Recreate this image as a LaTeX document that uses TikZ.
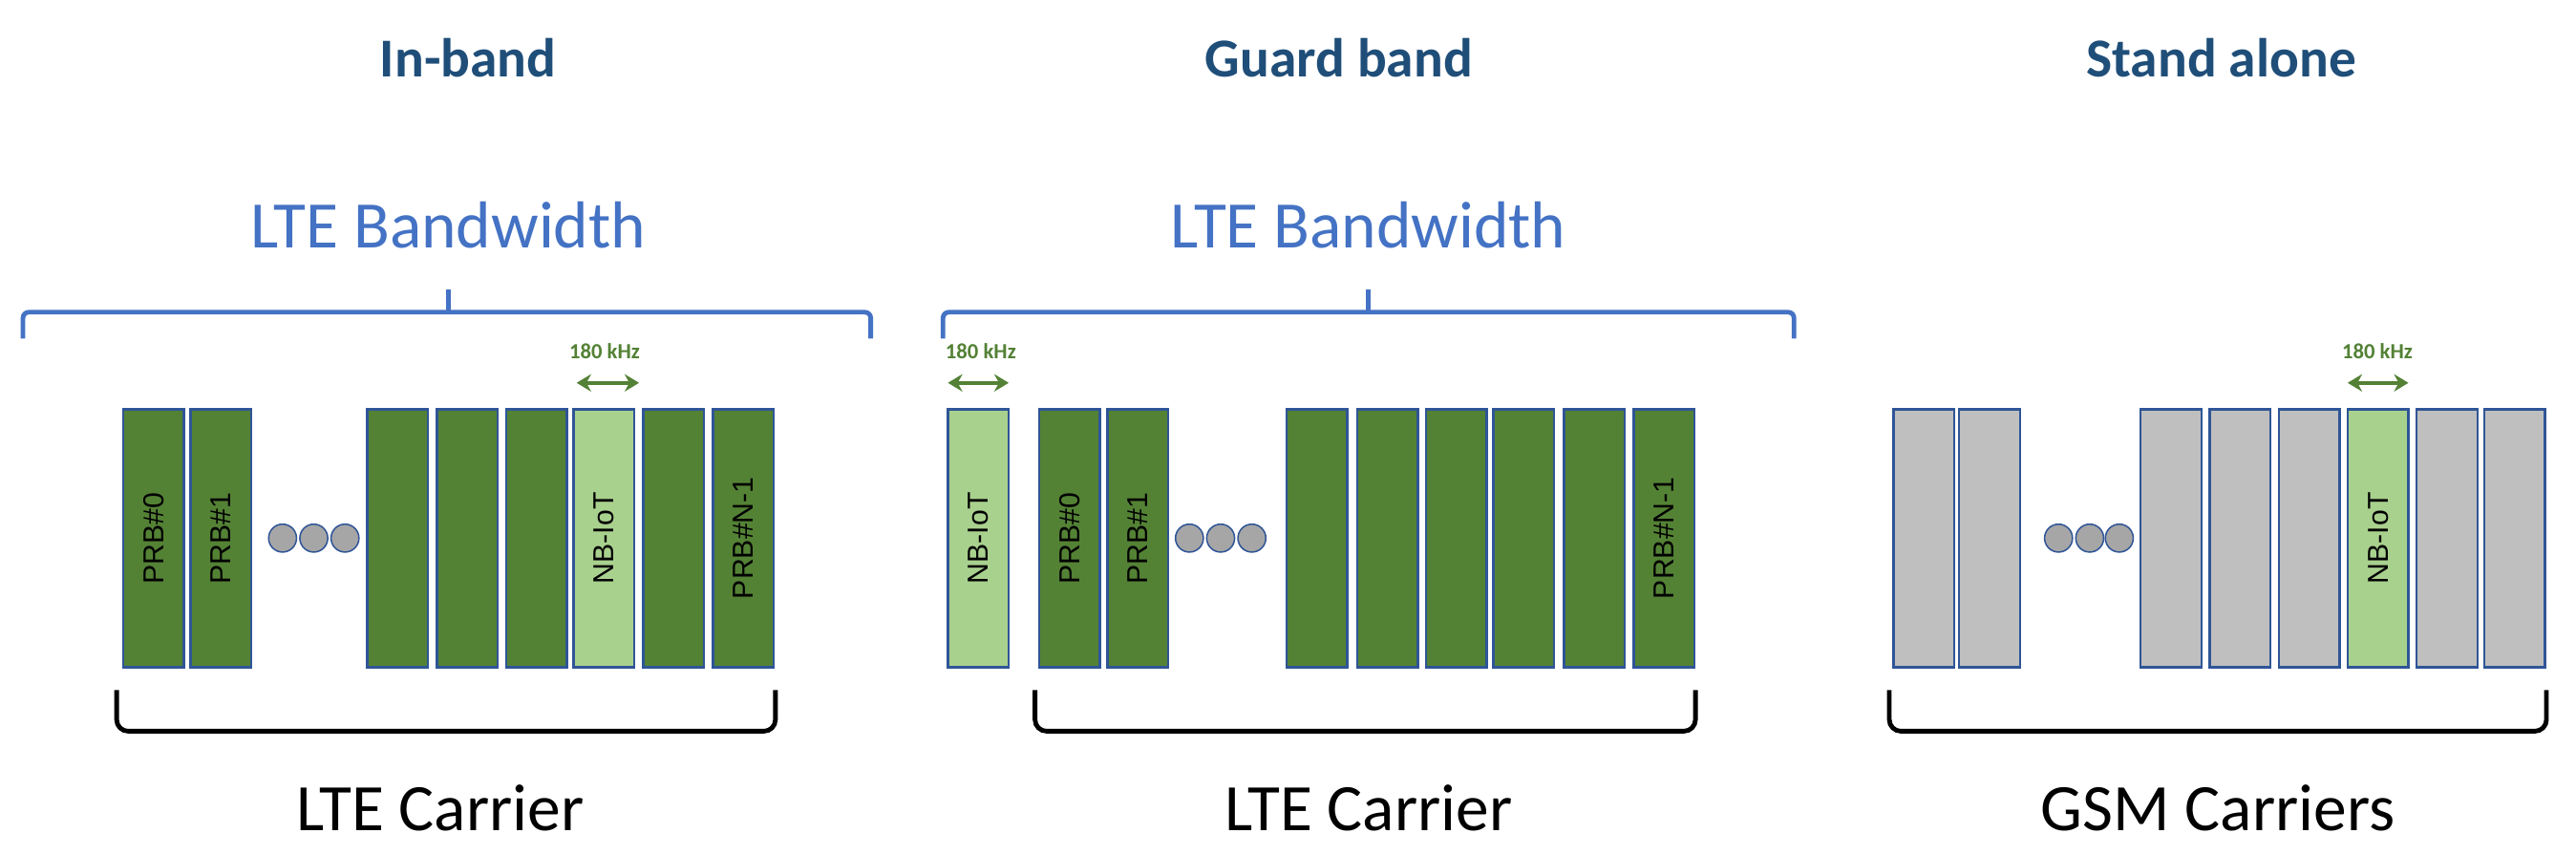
\documentclass[tikz,border=0pt]{standalone}
\usepackage{fontspec}
\setmainfont{Carlito}
\newfontfamily\arialf{Liberation Sans}
\usetikzlibrary{arrows.meta}
\definecolor{dg}{HTML}{548235}
\definecolor{lg}{HTML}{A9D18E}
\definecolor{bb}{HTML}{2F5597}
\definecolor{gr}{HTML}{BFBFBF}
\definecolor{bt}{HTML}{4472C4}
\definecolor{tt}{HTML}{1F4E79}
\definecolor{kg}{HTML}{538135}
\begin{document}
\begin{tikzpicture}[x=0.02cm,y=-0.02cm,
  bar/.style={draw=bb,line width=0.8pt,minimum width=0.74cm,minimum height=3.14cm,inner sep=0pt},
  dk/.style={bar,fill=dg}, lt/.style={bar,fill=lg}, gy/.style={bar,fill=gr},
  lab/.style={rotate=90,font=\arialf\fontsize{10}{12}\selectfont},
  dot/.style={circle,draw=bb,line width=0.5pt,fill=gray!70,minimum size=0.34cm,inner sep=0pt},
  title/.style={font=\bfseries\fontsize{19}{22}\selectfont,text=tt},
  bw/.style={font=\fontsize{23}{27}\selectfont,text=bt},
  car/.style={font=\fontsize{23}{27}\selectfont},
  khz/.style={font=\bfseries\fontsize{7.5}{9}\selectfont,text=kg},
  arr/.style={{Stealth[length=5pt,width=6pt]}-{Stealth[length=5pt,width=6pt]},draw=kg,line width=1.2pt},
  blue br/.style={draw=bt,line width=1.6pt,rounded corners=2pt},
  black br/.style={draw=black,line width=1.6pt,rounded corners=4pt}]
\useasboundingbox (0,0) rectangle (1568,520);
% titles
\node[title] (t1) at (285,35) {In-band};
\node[title] (t2) at (815,35) {Guard band};
\node[title] (t3) at (1352,35) {Stand alone};
% LTE bandwidth
\node[bw] (b1) at (273,137) {LTE Bandwidth};
\node[bw] (b2) at (833,137) {LTE Bandwidth};
\draw[blue br] (14,206) -- (14,190) -- (530,190) -- (530,206);
\draw[blue br] (273,190) -- (273,176);
\draw[blue br] (574,206) -- (574,190) -- (1092,190) -- (1092,206);
\draw[blue br] (833,190) -- (833,176);
% panel 1
\def\yc{327.5}
\node[dk] (a1) at (93.5,\yc) {};\node[lab] at (a1) {PRB\#0};
\node[dk] (a2) at (134.5,\yc) {};\node[lab] at (a2) {PRB\#1};
\node[dot] (ad1) at (172,\yc) {};\node[dot] (ad2) at (191,\yc) {};\node[dot] (ad3) at (210,\yc) {};
\node[dk] (a3) at (242,\yc) {};
\node[dk] (a4) at (284.5,\yc) {};
\node[dk] (a5) at (326.5,\yc) {};
\node[lt] (a6) at (367.5,\yc) {};\node[lab] at (a6) {NB-IoT};
\node[dk] (a7) at (410,\yc) {};
\node[dk] (a8) at (452.5,\yc) {};\node[lab] at (a8) {PRB\#N-1};
\node[khz] (k1) at (368,214) {180 kHz};
\coordinate (k1l) at (351,233);\coordinate (k1r) at (389,233);
\draw[arr] (k1l) -- (k1r);
% panel 2
\node[lt] (g0) at (595.5,\yc) {};\node[lab] at (g0) {NB-IoT};
\node[dk] (g1) at (651,\yc) {};\node[lab] at (g1) {PRB\#0};
\node[dk] (g2) at (692.5,\yc) {};\node[lab] at (g2) {PRB\#1};
\node[dot] (gd1) at (724,\yc) {};\node[dot] (gd2) at (743,\yc) {};\node[dot] (gd3) at (762,\yc) {};
\node[dk] (g3) at (801.5,\yc) {};
\node[dk] (g4) at (844.5,\yc) {};
\node[dk] (g5) at (886.5,\yc) {};
\node[dk] (g6) at (927.5,\yc) {};
\node[dk] (g7) at (970.5,\yc) {};
\node[dk] (g8) at (1013,\yc) {};\node[lab] at (g8) {PRB\#N-1};
\node[khz] (k2) at (597,214) {180 kHz};
\coordinate (k2l) at (577,233);\coordinate (k2r) at (614,233);
\draw[arr] (k2l) -- (k2r);
% panel 3
\node[gy] (s1) at (1171,\yc) {};
\node[gy] (s2) at (1211,\yc) {};
\node[dot] (sd1) at (1253,\yc) {};\node[dot] (sd2) at (1272,\yc) {};\node[dot] (sd3) at (1290,\yc) {};
\node[gy] (s3) at (1321.5,\yc) {};
\node[gy] (s4) at (1363.5,\yc) {};
\node[gy] (s5) at (1405.5,\yc) {};
\node[lt] (s6) at (1447.5,\yc) {};\node[lab] at (s6) {NB-IoT};
\node[gy] (s7) at (1489.5,\yc) {};
\node[gy] (s8) at (1530.5,\yc) {};
\node[khz] (k3) at (1447,214) {180 kHz};
\coordinate (k3l) at (1429,233);\coordinate (k3r) at (1466,233);
\draw[arr] (k3l) -- (k3r);
% carrier brackets
\draw[black br] (71,420) -- (71,445) -- (472,445) -- (472,420);
\draw[black br] (630,420) -- (630,445) -- (1032,445) -- (1032,420);
\draw[black br] (1150,420) -- (1150,445) -- (1550,445) -- (1550,420);
\node[car] (c1) at (268,492) {LTE Carrier};
\node[car] (c2) at (833,492) {LTE Carrier};
\node[car] (c3) at (1350,492) {GSM Carriers};
\end{tikzpicture}
\end{document}
